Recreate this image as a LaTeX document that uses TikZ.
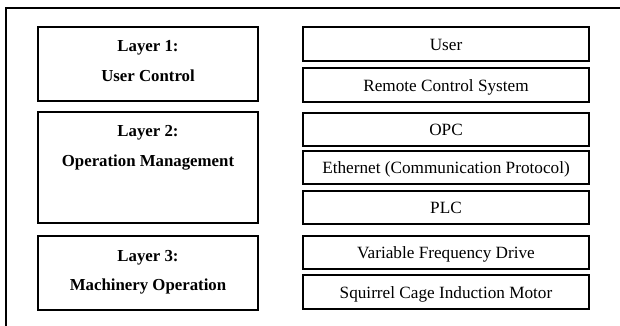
\documentclass[tikz,border=0pt]{standalone}
\usepackage{fontspec}
\setmainfont{Liberation Serif}
\begin{document}
\begin{tikzpicture}[x=1pt,y=-1pt,
  box/.style={draw=black,line width=2.4pt,inner sep=0pt},
  txt/.style={font=\fontsize{17.2}{20}\selectfont,inner sep=0pt,anchor=center,text depth=0pt,yshift=-0.5pt},
  btxt/.style={txt,font=\fontsize{16.8}{20}\selectfont\bfseries}]
\useasboundingbox (0,0) rectangle (620,325);
\clip (0,0) rectangle (620,325);
\draw[line width=2.2pt] (6,340) -- (6,8) -- (640,8);
% left layer boxes
\node[box,minimum width=220pt,minimum height=74pt] (L1) at (148,64) {};
\node[box,minimum width=220pt,minimum height=111pt] (L2) at (148,167.5) {};
\node[box,minimum width=220pt,minimum height=74pt] (L3) at (148,273) {};
\node[btxt] (L1a) at (148,45) {Layer 1:};
\node[btxt] (L1b) at (148,75) {User Control};
\node[btxt] (L2a) at (148,130) {Layer 2:};
\node[btxt] (L2b) at (148,160) {Operation Management};
\node[btxt] (L3a) at (148,255) {Layer 3:};
\node[btxt] (L3b) at (148,284) {Machinery Operation};
% right boxes
\node[box,minimum width=286pt,minimum height=34pt] (u) at (446,44) {};
\node[box,minimum width=286pt,minimum height=34pt] (r) at (446,85) {};
\node[box,minimum width=286pt,minimum height=33pt] (o) at (446,129.5) {};
\node[box,minimum width=286pt,minimum height=33pt] (e) at (446,167.5) {};
\node[box,minimum width=286pt,minimum height=33pt] (p) at (446,207.5) {};
\node[box,minimum width=286pt,minimum height=33pt] (v) at (446,252.5) {};
\node[box,minimum width=286pt,minimum height=34pt] (s) at (446,292) {};
\node[txt] (ut) at (u.center) {User};
\node[txt] (rt) at (r.center) {Remote Control System};
\node[txt] (ot) at (o.center) {OPC};
\node[txt] (et) at (e.center) {Ethernet (Communication Protocol)};
\node[txt] (pt) at (p.center) {PLC};
\node[txt] (vt) at (v.center) {Variable Frequency Drive};
\node[txt] (st) at (s.center) {Squirrel Cage Induction Motor};
\end{tikzpicture}
\end{document}
